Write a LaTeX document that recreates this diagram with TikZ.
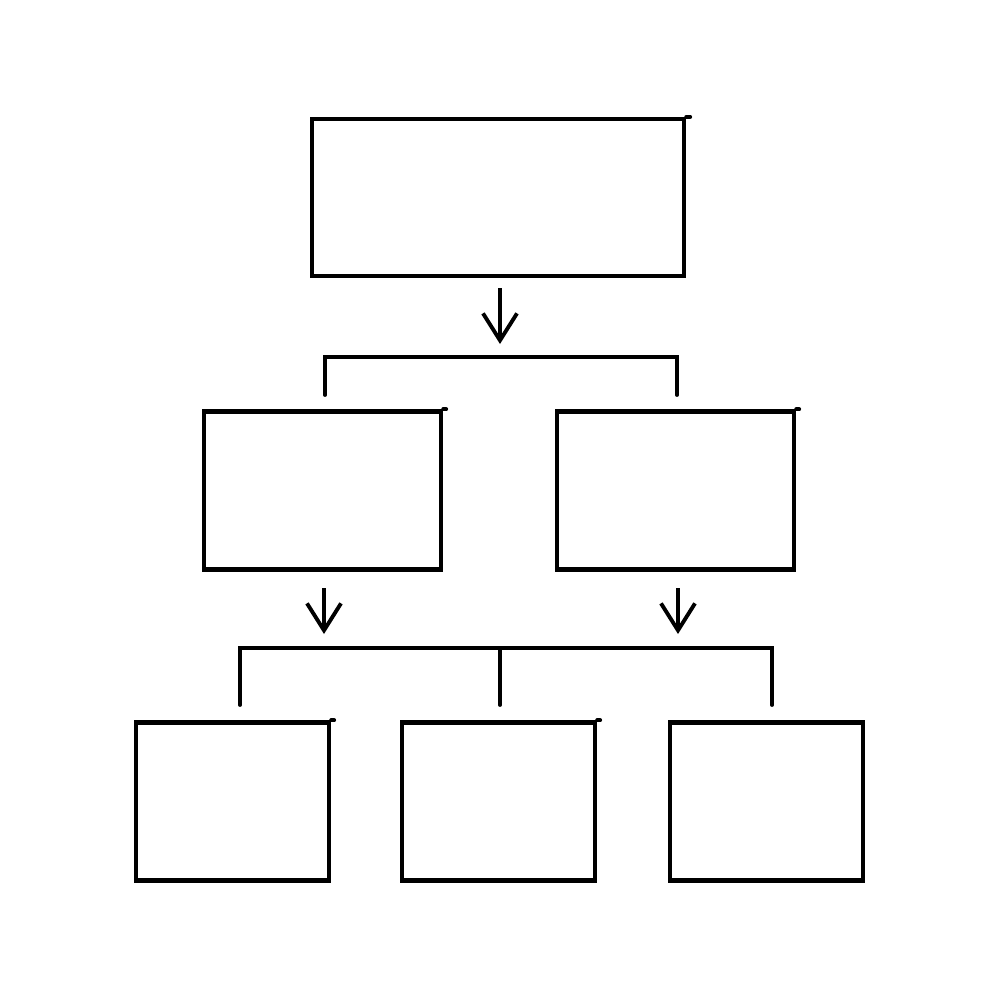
\documentclass[tikz,border=0pt]{standalone}
\usetikzlibrary{arrows.meta}

\tikzset{
  box/.style={draw, line width=1.2pt, inner sep=0pt, minimum height=1.58cm},
  link/.style={line width=1.1pt, line cap=round},
  down/.style={line width=1.1pt, -{Straight Barb[length=0.27cm, width=0.34cm, line width=1.1pt]}}
}

\begin{document}
\begin{tikzpicture}[x=0.01cm, y=-0.01cm]
\useasboundingbox (0,0) rectangle (1000,1000);
%\draw [help lines, step=100] (0,0) grid (1000,1000);
\node [box, minimum width=3.72cm, minimum height=1.57cm] (top) at (498,197.5) {};
\node [box, minimum width=2.37cm] (midL) at (322.5,490.5) {}; \node [box, minimum width=2.37cm] (midR) at (675.5,490.5) {};
\node [box, minimum width=1.93cm] (botL) at (232.5,801.5) {}; \node [box, minimum width=1.93cm] (botC) at (498.5,801.5) {}; \node [box, minimum width=1.93cm] (botR) at (766.5,801.5) {};
% sketchy overshoots
\draw [link] (top.north east) -- ++(4,0); \draw [link] (midL.north east) -- ++(3,0); \draw [link] (midR.north east) -- ++(3,0);
\draw [link] (botL.north east) -- ++(3,0); \draw [link] (botC.north east) -- ++(3,0);

% first level
\coordinate (a1) at (500,288); \coordinate (a2) at (500,344);
\draw [down] (a1) -- (a2);
\coordinate (b1) at (325,357); \coordinate (b2) at (677,357); \coordinate (b3) at (325,395); \coordinate (b4) at (677,395);
\draw [link] (b3) -- (b1) -- (b2) -- (b4);

% second level
\coordinate (c1) at (324,588); \coordinate (c2) at (324,634); \coordinate (d1) at (678,588); \coordinate (d2) at (678,634);
\draw [down] (c1) -- (c2); \draw [down] (d1) -- (d2);
\coordinate (e1) at (240,648); \coordinate (e2) at (772,648); \coordinate (e3) at (500,648);
\coordinate (f1) at (240,705); \coordinate (f2) at (772,705); \coordinate (f3) at (500,705);
\draw [link] (f1) -- (e1) -- (e2) -- (f2); \draw [link] (e3) -- (f3);

\end{tikzpicture}
\end{document}
